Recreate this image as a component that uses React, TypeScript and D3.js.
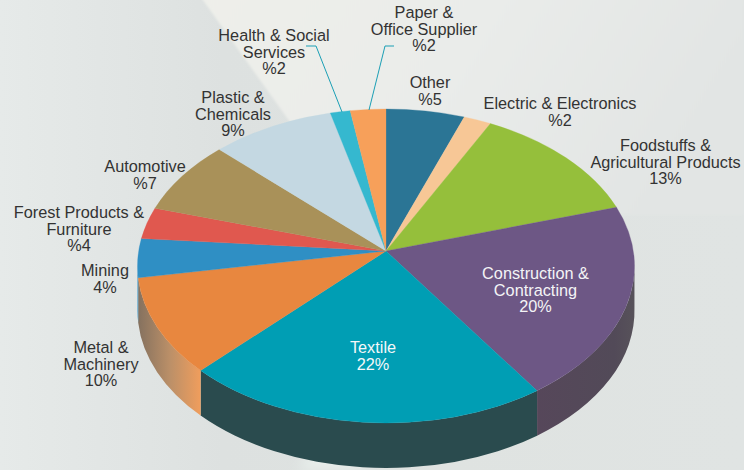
import React from "react";
import * as d3 from "d3";

const W = 744;
const H = 470;

const categories = ["Other","Electric & Electronics","Foodstuffs & Agricultural Products","Construction & Contracting","Textile","Metal & Machinery","Mining","Forest Products & Furniture","Automotive","Plastic & Chemicals","Health & Social Services","Paper & Office Supplier"];
// Printed labels
const labelLines = [
  ["Other","%5"],
  ["Electric & Electronics","%2"],
  ["Foodstuffs &","Agricultural Products","13%"],
  ["Construction &","Contracting","20%"],
  ["Textile","22%"],
  ["Metal &","Machinery","10%"],
  ["Mining","4%"],
  ["Forest Products &","Furniture","%4"],
  ["Automotive","%7"],
  ["Plastic &","Chemicals","9%"],
  ["Health & Social","Services","%2"],
  ["Paper &","Office Supplier","%2"],
];
// Slice sizes as drawn in the picture (they differ a little from the printed labels)
const drawnShares = [5.1, 1.8, 12, 20.7, 23.8, 10.4, 4, 3.2, 7.3, 8.1, 1.3, 2.3];
const sliceColors = ["#2b7595","#f7c796","#95bf3b","#6d5785","#009eb4","#e8873f","#2f8fc4","#e0584f","#a99159","#c4d8e2","#35b8cf","#f7a05a"];
const labelX = [430,560,665.5,535.5,373,101,105,79,145,233,274,424];
const labelY = [88,109,151,279,353,353,276,218,172,103,41,18];
const labelFill = ["#333","#333","#333","#f4f4f6","#f4f8f9","#333","#333","#333","#333","#333","#333","#333"];

const apex: [number, number] = [386, 251];
const cx = 386, cy = 266, rx = 248.5, ry = 157, depth = 45;

const pt = (a: number, dy = 0): [number, number] => [cx + rx * Math.sin(a), cy - ry * Math.cos(a) + dy];

const arcs = d3.pie<number>().sort(null)(drawnShares);

const slicePath = (a0: number, a1: number) => {
  const p0 = pt(a0), p1 = pt(a1);
  const large = a1 - a0 > Math.PI ? 1 : 0;
  return `M${apex[0]},${apex[1]}L${p0[0]},${p0[1]}A${rx},${ry} 0 ${large} 1 ${p1[0]},${p1[1]}Z`;
};
const sidePath = (a0: number, a1: number) => {
  const s = Math.max(a0, Math.PI / 2 - 0.02), e = Math.min(a1, (3 * Math.PI) / 2);
  if (e <= s) return null;
  const p0 = pt(s), p1 = pt(e), q1 = pt(e, depth), q0 = pt(s, depth);
  return `M${p0[0]},${p0[1]}A${rx},${ry} 0 0 1 ${p1[0]},${p1[1]}L${q1[0]},${q1[1]}A${rx},${ry} 0 0 0 ${q0[0]},${q0[1]}Z`;
};
const sideFills: Record<number, string> = { 3: "url(#sidePurple)", 4: "#2a4b4e", 5: "url(#sideOrange)" };

const leaders = [
  [[306, 46], [316, 46], [342, 112]],
  [[394, 46], [385, 46], [369, 110]],
];
const leaderLine = d3.line();

export default function App() {
  return (
    <svg width={W} height={H} viewBox={`0 0 ${W} ${H}`} style={{ position: "fixed", left: 0, top: 0 }}
      fontFamily="'Liberation Sans', Arial, sans-serif">
      <defs>
        <linearGradient id="bg" x1="0" y1="0" x2="1" y2="0">
          <stop offset="0" stopColor="#e6eae9" />
          <stop offset="0.3" stopColor="#dde1e0" />
          <stop offset="0.6" stopColor="#dfe3e1" />
          <stop offset="1" stopColor="#e0e4e3" />
        </linearGradient>
        <linearGradient id="topLight" x1="0" y1="0" x2="1" y2="0.25">
          <stop offset="0" stopColor="#eeefea" />
          <stop offset="0.5" stopColor="#eaecea" />
          <stop offset="1" stopColor="#e2e5e4" />
        </linearGradient>
        <linearGradient id="sideOrange" gradientUnits="userSpaceOnUse" x1="139" y1="0" x2="202" y2="0">
          <stop offset="0" stopColor="#86725f" />
          <stop offset="0.5" stopColor="#bc9068" />
          <stop offset="1" stopColor="#f29e5c" />
        </linearGradient>
        <linearGradient id="sidePurple" gradientUnits="userSpaceOnUse" x1="537" y1="0" x2="634" y2="0">
          <stop offset="0" stopColor="#56475a" />
          <stop offset="0.8" stopColor="#524a58" />
          <stop offset="1" stopColor="#57525a" />
        </linearGradient>
        <filter id="soft" x="-10%" y="-10%" width="120%" height="120%">
          <feGaussianBlur stdDeviation="1.2" />
        </filter>
        <filter id="softer" x="-30%" y="-30%" width="160%" height="160%">
          <feGaussianBlur stdDeviation="6" />
        </filter>
      </defs>
      <rect width={W} height={H} fill="url(#bg)" />
      <path d="M200,-4L744,-4L744,215L560,215L370,160L290,122Z" fill="url(#topLight)" filter="url(#soft)" />
      <path d="M298,470L320,440L372,470Z" fill="#e8eeeb" filter="url(#softer)" />
      {arcs.map((a, i) => {
        const d = sidePath(a.startAngle, a.endAngle);
        return d ? <path key={i} d={d} fill={sideFills[i] ?? sliceColors[i]} /> : null;
      })}
      {arcs.map((a, i) => (
        <path key={categories[i]} d={slicePath(a.startAngle, a.endAngle)} fill={sliceColors[i]} stroke={sliceColors[i]} strokeWidth={0.3} />
      ))}
      {leaders.map((l, i) => (
        <path key={i} d={leaderLine(l as [number, number][]) ?? ""} fill="none" stroke="#1a9fb5" strokeWidth={1} />
      ))}
      {labelLines.map((lines, i) => (
        <text key={categories[i]} textAnchor="middle" fontSize={16.3} fill={labelFill[i]}>
          {lines.map((t, j) => (
            <tspan key={j} x={labelX[i]} y={labelY[i] + j * 16.5}>{t}</tspan>
          ))}
        </text>
      ))}
    </svg>
  );
}
